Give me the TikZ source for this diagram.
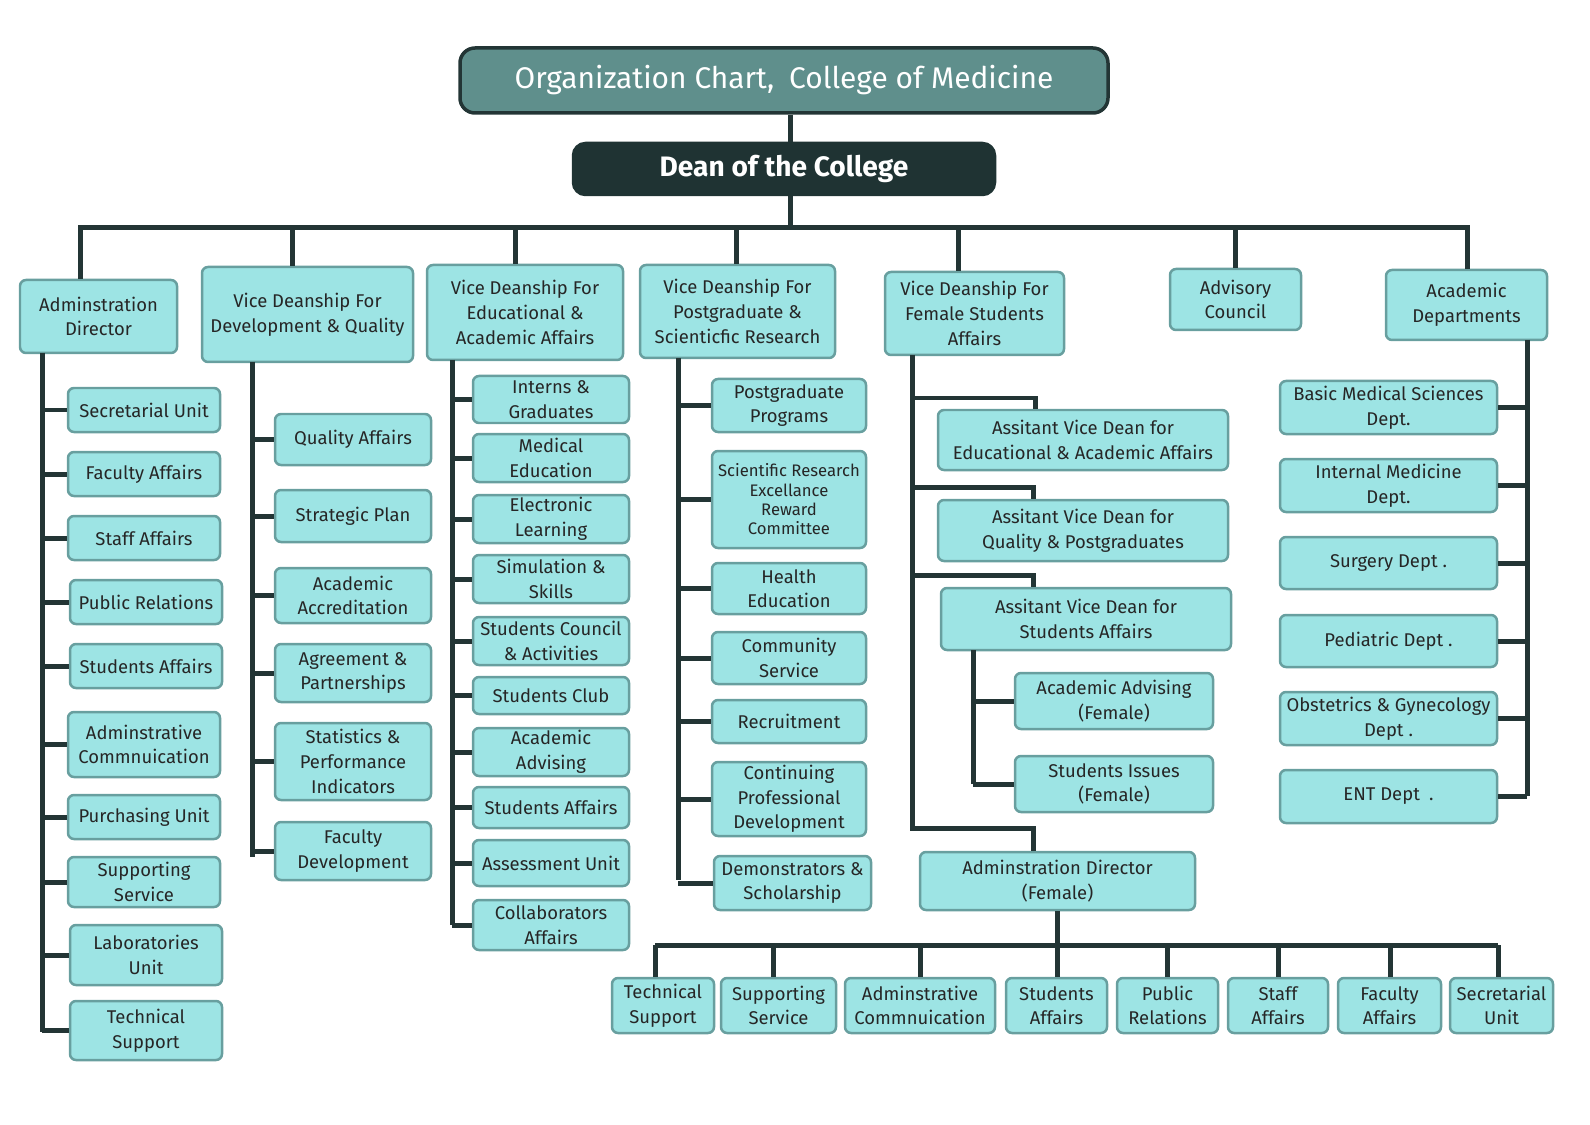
\documentclass[tikz,border=0pt]{standalone}
\usepackage{fontspec}
\setmainfont{Fira Sans}
\definecolor{bfill}{HTML}{9DE4E4}
\definecolor{bdraw}{HTML}{689F9F}
\definecolor{ln}{HTML}{233535}
\definecolor{tfill}{HTML}{5F8F8C}
\definecolor{dfill}{HTML}{1F3333}
\newcommand\bx[7][]{\node[box,#1,minimum width={(#4-#2)*0.02cm},minimum height={(#5-#3)*0.02cm}] (#7) at ({(#2+#4)/2},{(#3+#5)/2}) {#6};}
\begin{document}
\begin{tikzpicture}[x=0.02cm,y=-0.02cm,
 box/.style={draw=bdraw,fill=bfill,line width=0.05cm,rounded corners=0.12cm,align=center,inner sep=0pt,font=\fontsize{10.5}{14}\selectfont,text=black!85},
 con/.style={draw=ln,line width=0.1cm}]
\useasboundingbox (0,0) rectangle (1590,1125);
\bx[fill=tfill,draw=ln,text=white,font=\fontsize{17}{20}\selectfont,line width=0.07cm,rounded corners=0.3cm]{460}{48}{1108}{113}{Organization Chart,\enspace College of Medicine}{T}
\bx[fill=dfill,draw=dfill,text=white,font=\fontsize{16}{20}\selectfont\bfseries,rounded corners=0.25cm]{573}{143}{995}{195}{Dean of the College}{D}
\coordinate (bus) at (790,228);
\draw[con] (T.south -| bus) -- (D.north -| bus);
\draw[con] (D.south -| bus) -- (bus);
\bx{20}{280}{177}{353}{Adminstration\\Director}{A}
\bx{202}{267}{413}{362}{Vice Deanship For\\Development \& Quality}{B}
\bx{427}{265}{623}{360}{Vice Deanship For\\Educational \&\\Academic Affairs}{C}
\bx{640}{265}{835}{358}{Vice Deanship For\\Postgraduate \&\\Scienticfic Research}{Dd}
\bx{885}{272}{1064}{355}{Vice Deanship For\\Female Students\\Affairs}{E}
\bx{1170}{269}{1301}{330}{Advisory\\Council}{F}
\bx{1386}{270}{1547}{340}{Academic\\Departments}{G}
\draw[con] (A.north -| 80,0) |- (1467,228) -- (G.north -| 1467,0);
\foreach \x/\n in {292/B,515/C,736/Dd,958/E,1235/F}{\draw[con] (\x,228) -- (\n.north -| \x,0);}
% column A
\coordinate (As) at (42,353); \coordinate (Ae) at (42,1032);
\draw[con] (As) -- (Ae);
\bx{68}{388}{220}{432}{Secretarial Unit}{a1}
\bx{68}{452}{220}{496}{Faculty Affairs}{a2}
\bx{68}{516}{220}{560}{Staff Affairs}{a3}
\bx{70}{580}{222}{624}{Public Relations}{a4}
\bx{70}{644}{222}{688}{Students Affairs}{a5}
\bx{68}{712}{220}{777}{Adminstrative\\Commnuication}{a6}
\bx{68}{795}{220}{839}{Purchasing Unit}{a7}
\bx{68}{857}{220}{907}{Supporting\\Service}{a8}
\bx{70}{925}{222}{985}{Laboratories\\Unit}{a9}
\bx{70}{1001}{222}{1060}{Technical\\Support}{a10}
\foreach \i in {1,...,10}{\draw[con] (a\i.west) -- (a\i.west -| As);}
% column B
\coordinate (Bs) at (252,362); \coordinate (Be) at (252,857);
\draw[con] (Bs) -- (Be);
\bx{275}{414}{431}{465}{Quality Affairs}{b1}
\bx{275}{490}{431}{542}{Strategic Plan}{b2}
\bx{275}{568}{431}{623}{Academic\\Accreditation}{b3}
\bx{275}{644}{431}{702}{Agreement \&\\Partnerships}{b4}
\bx{275}{723}{431}{800}{Statistics \&\\Performance\\Indicators}{b5}
\bx{275}{822}{431}{880}{Faculty\\Development}{b6}
\foreach \i in {1,...,6}{\draw[con] (b\i.west) -- (b\i.west -| Bs);}
% column C
\coordinate (Cs) at (452,360); \coordinate (Ce) at (452,925);
\draw[con] (Cs) -- (Ce);
\bx{473}{376}{629}{423}{Interns \&\\Graduates}{c1}
\bx{473}{434}{629}{482}{Medical\\Education}{c2}
\bx{473}{495}{629}{543}{Electronic\\Learning}{c3}
\bx{473}{555}{629}{603}{Simulation \&\\Skills}{c4}
\bx{473}{617}{629}{665}{Students Council\\\& Activities}{c5}
\bx{473}{677}{629}{714}{Students Club}{c6}
\bx{473}{728}{629}{776}{Academic\\Advising}{c7}
\bx{473}{787}{629}{828}{Students Affairs}{c8}
\bx{473}{840}{629}{886}{Assessment Unit}{c9}
\bx{473}{900}{629}{950}{Collaborators\\Affairs}{c10}
\foreach \i in {1,...,10}{\draw[con] (c\i.west) -- (c\i.west -| Cs);}
% column D
\coordinate (Ds) at (678,358); \coordinate (De) at (678,880);
\draw[con] (Ds) -- (De);
\bx{712}{379}{866}{432}{Postgraduate\\Programs}{d1}
\bx[font=\fontsize{9.5}{11}\selectfont]{712}{451}{866}{548}{Scientific Research\\Excellance\\Reward\\Committee}{d2}
\bx{712}{563}{866}{614}{Health\\Education}{d3}
\bx{712}{632}{866}{684}{Community\\Service}{d4}
\bx{712}{700}{866}{743}{Recruitment}{d5}
\bx{712}{762}{866}{836}{Continuing\\Professional\\Development}{d6}
\bx{714}{856}{871}{910}{Demonstrators \&\\Scholarship}{d7}
\foreach \i in {1,...,7}{\draw[con] (d\i.west) -- (d\i.west -| Ds);}
% column E
\coordinate (Es) at (912,355); \coordinate (Ee) at (912,828);
\bx{938}{410}{1228}{470}{Assitant Vice Dean for\\Educational \& Academic Affairs}{e1}
\bx{938}{500}{1228}{561}{Assitant Vice Dean for\\Quality \& Postgraduates}{e2}
\bx{941}{588}{1231}{650}{Assitant Vice Dean for\\Students Affairs}{e3}
\bx{1015}{673}{1213}{729}{Academic Advising\\(Female)}{e4}
\bx{1015}{756}{1213}{812}{Students Issues\\(Female)}{e5}
\bx{920}{852}{1195}{910}{Adminstration Director\\(Female)}{e6}
\draw[con] (Es) -- (Ee) -| (e6.north -| 1033,0);
\draw[con] (912,398) -| (e1.north -| 1035,0);
\draw[con] (912,487) -| (e2.north -| 1033,0);
\draw[con] (912,575) -| (e3.north -| 1033,0);
\coordinate (Fs) at (973,650); \coordinate (Fe) at (973,784);
\draw[con] (Fs) -- (Fe);
\draw[con] (e4.west) -- (e4.west -| Fs);
\draw[con] (e5.west) -- (e5.west -| Fs);
% bottom row
\bx{612}{978}{714}{1033}{Technical\\Support}{f1}
\bx{721}{978}{836}{1033}{Supporting\\Service}{f2}
\bx{845}{978}{995}{1033}{Adminstrative\\Commnuication}{f3}
\bx{1006}{978}{1107}{1033}{Students\\Affairs}{f4}
\bx{1117}{978}{1218}{1033}{Public\\Relations}{f5}
\bx{1228}{978}{1328}{1033}{Staff\\Affairs}{f6}
\bx{1338}{978}{1441}{1033}{Faculty\\Affairs}{f7}
\bx{1450}{978}{1553}{1033}{Secretarial\\Unit}{f8}
\coordinate (hb) at (1057,945);
\draw[con] (e6.south -| hb) -- (hb);
\draw[con] (655,945) -- (1498,945);
\foreach \i/\x in {1/655,2/773,3/920,4/1057,5/1167,6/1278,7/1390,8/1498}{\draw[con] (\x,945) -- (f\i.north -| \x,0);}
% column G
\coordinate (Gs) at (1527,340); \coordinate (Ge) at (1527,796);
\bx{1280}{381}{1497}{434}{Basic Medical Sciences\\Dept.}{g1}
\bx{1280}{459}{1497}{512}{Internal Medicine\\Dept.}{g2}
\bx{1280}{537}{1497}{589}{Surgery Dept .}{g3}
\bx{1280}{615}{1497}{667}{Pediatric Dept .}{g4}
\bx{1280}{692}{1497}{745}{Obstetrics \& Gynecology\\Dept .}{g5}
\bx{1280}{770}{1497}{823}{ENT Dept\enspace.}{g6}
\draw[con] (Gs) -- (Ge);
\foreach \i in {1,...,6}{\draw[con] (g\i.east) -- (g\i.east -| Gs);}
\end{tikzpicture}
\end{document}
